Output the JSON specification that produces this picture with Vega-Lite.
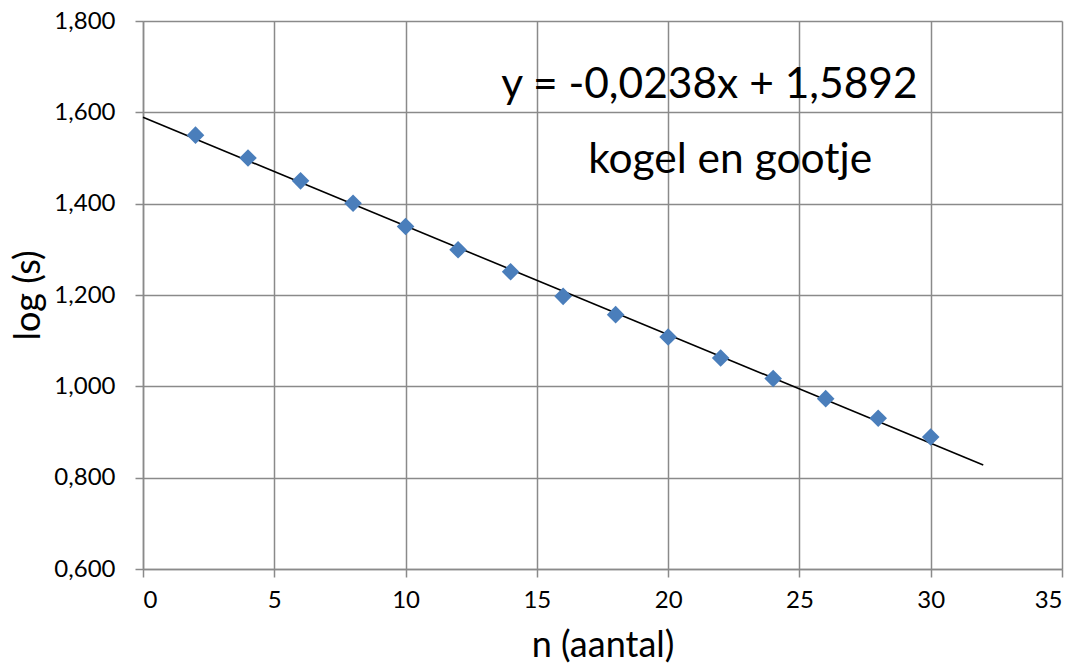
{
  "$schema": "https://vega.github.io/schema/vega-lite/v6.json",
  "width": 919,
  "height": 548,
  "autosize": {"type": "none"},
  "padding": {"left": 143, "top": 21, "right": 13, "bottom": 97},
  "background": "white",
  "config": {
    "view": {"stroke": null},
    "font": "Lato",
    "axis": {
      "gridColor": "#8a8a8a",
      "gridWidth": 1.5,
      "domainColor": "#8a8a8a",
      "domainWidth": 1.5,
      "tickColor": "#8a8a8a",
      "tickWidth": 1.5,
      "tickSize": 8,
      "labelFont": "Lato",
      "labelFontSize": 24,
      "labelColor": "#000000",
      "titleFont": "Lato",
      "titleFontSize": 36,
      "titleFontWeight": "normal",
      "titleColor": "#000000"
    }
  },
  "datasets": {
    "points": [
      {"n": 2, "logs": 1.550},
      {"n": 4, "logs": 1.500},
      {"n": 6, "logs": 1.450},
      {"n": 8, "logs": 1.401},
      {"n": 10, "logs": 1.350},
      {"n": 12, "logs": 1.299},
      {"n": 14, "logs": 1.251},
      {"n": 16, "logs": 1.197},
      {"n": 18, "logs": 1.157},
      {"n": 20, "logs": 1.108},
      {"n": 22, "logs": 1.062},
      {"n": 24, "logs": 1.017},
      {"n": 26, "logs": 0.973},
      {"n": 28, "logs": 0.930},
      {"n": 30, "logs": 0.889}
    ],
    "trend": [
      {"n": 0, "logs": 1.5892},
      {"n": 32, "logs": 0.8276}
    ],
    "labels": [
      {"n": 21.57, "logs": 1.659, "text": "y = -0,0238x + 1,5892"},
      {"n": 22.36, "logs": 1.495, "text": "kogel en gootje"}
    ]
  },
  "layer": [
    {
      "data": {"name": "trend"},
      "mark": {"type": "line", "color": "#000000", "strokeWidth": 1.6},
      "encoding": {
        "x": {
          "field": "n", "type": "quantitative",
          "scale": {"domain": [0, 35], "nice": false},
          "axis": {"values": [0, 5, 10, 15, 20, 25, 30, 35], "title": "n (aantal)", "labelPadding": 11, "titlePadding": 16}
        },
        "y": {
          "field": "logs", "type": "quantitative",
          "scale": {"domain": [0.6, 1.8], "nice": false, "zero": false},
          "axis": {
            "values": [0.6, 0.8, 1.0, 1.2, 1.4, 1.6, 1.8],
            "labelExpr": "replace(format(datum.value, '.3f'), '.', ',')",
            "title": "log (s)",
            "labelPadding": 20,
            "titlePadding": 6
          }
        }
      }
    },
    {
      "data": {"name": "points"},
      "mark": {"type": "point", "shape": "diamond", "filled": true, "size": 310, "color": "#4a7ebb", "opacity": 1},
      "encoding": {
        "x": {"field": "n", "type": "quantitative"},
        "y": {"field": "logs", "type": "quantitative"}
      }
    },
    {
      "data": {"name": "labels"},
      "mark": {"type": "text", "font": "Lato", "fontSize": 42.5, "color": "#000000", "align": "center", "baseline": "middle"},
      "encoding": {
        "x": {"field": "n", "type": "quantitative"},
        "y": {"field": "logs", "type": "quantitative"},
        "text": {"field": "text"}
      }
    }
  ]
}
